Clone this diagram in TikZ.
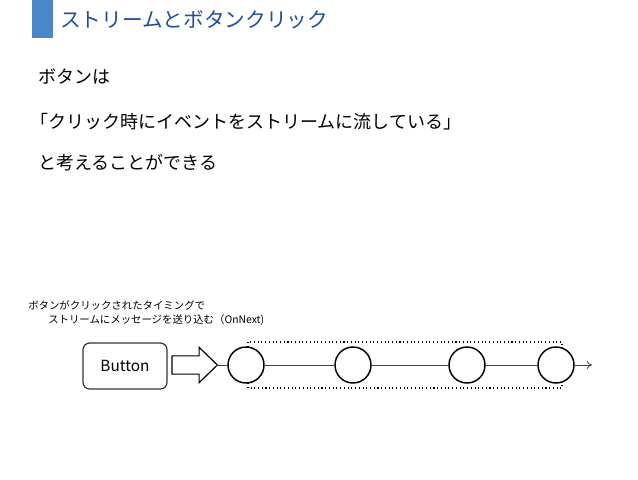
\documentclass[tikz,border=0pt]{standalone}
\usepackage{fontspec}
\setmainfont{Noto Sans CJK JP}
\usetikzlibrary{shapes.arrows,arrows.meta}
\definecolor{titleblue}{HTML}{1F4E9A}
\definecolor{barblue}{HTML}{4A86C8}
\begin{document}
\begin{tikzpicture}[x=0.75pt,y=-0.75pt,
  body/.style={anchor=west,inner sep=0pt,font=\fontsize{13.5pt}{16pt}\selectfont},
  small/.style={anchor=west,inner sep=0pt,font=\fontsize{7.8pt}{9pt}\selectfont},
  ev/.style={circle,draw=black,line width=1.1pt,minimum size=27pt,inner sep=0pt,fill=white},
  wire/.style={draw=black!75,line width=0.6pt}]
\useasboundingbox (0,0) rectangle (638,479);
\fill[barblue] (32,0) rectangle (53,38);
\node[anchor=west,inner sep=0pt,text=titleblue,font=\fontsize{15.5pt}{18pt}\selectfont] (title) at (60,20) {ストリームとボタンクリック};
\node[body] (l1) at (38,77) {ボタンは};
\node[body] (l2) at (30,122) {「クリック時にイベントをストリームに流している」};
\node[body] (l3) at (38,163) {と考えることができる};
\node[small] (s1) at (28,305) {ボタンがクリックされたタイミングで};
\node[small] (s2) at (48,320) {ストリームにメッセージを送り込む（OnNext)};
\node[draw=black!80,line width=0.9pt,rounded corners=5pt,minimum width=63pt,minimum height=34.5pt,inner sep=0pt,
  font=\fontsize{11.5pt}{13pt}\selectfont] (btn) at (125,366) {Button};
\node[single arrow,draw=black,line width=0.9pt,fill=white,minimum height=34pt,
  inner xsep=0pt,inner ysep=6.4pt,single arrow head extend=6.4pt,single arrow tip angle=88] (arr) at (190,365) {};
\coordinate (start) at (216,365);
\coordinate (end) at (592,365);
\draw[black,line width=0.8pt,dotted] (248,342) rectangle (562,388);
\node[ev] (c1) at (246,365) {};
\node[ev] (c2) at (353,365) {};
\node[ev] (c3) at (467,365) {};
\node[ev] (c4) at (556,365) {};
\draw[wire] (start) -- (c1);
\draw[wire] (c1) -- (c2);
\draw[wire] (c2) -- (c3);
\draw[wire] (c3) -- (c4);
\draw[wire,-{To[length=4pt,width=6pt]}] (c4) -- (end);
\end{tikzpicture}
\end{document}
